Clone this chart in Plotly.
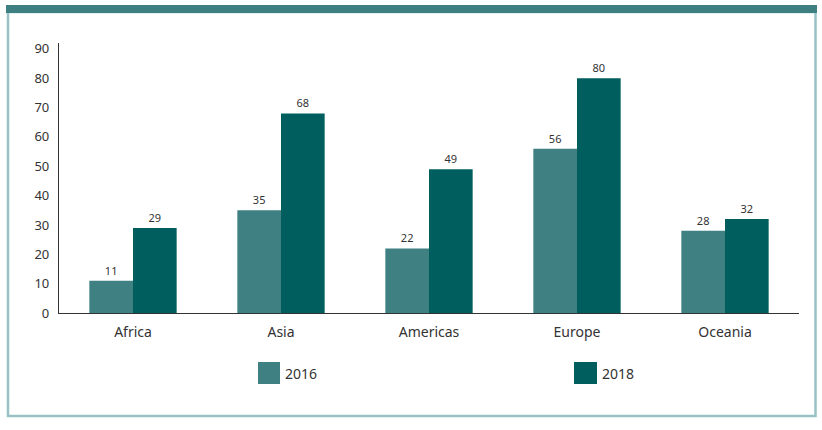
import plotly.graph_objects as go

categories = ["Africa", "Asia", "Americas", "Europe", "Oceania"]
values_2016 = [11, 35, 22, 56, 28]
values_2018 = [29, 68, 49, 80, 32]
series_names = ["2016", "2018"]
y_ticks = [0, 10, 20, 30, 40, 50, 60, 70, 80, 90]

C16 = "#3f8082"
C18 = "#005f5e"
FONT = "Noto Sans"
W, H = 822, 430
L, T = 59, 43
R = W - 799
B = H - 313
PW, PH = W - L - R, H - T - B


def px(x):
    return (x - L) / PW


def py(y):
    return (H - B - y) / PH


fig = go.Figure()
for name, vals, col in [(series_names[0], values_2016, C16), (series_names[1], values_2018, C18)]:
    fig.add_trace(go.Bar(
        x=categories, y=vals, name=name, marker=dict(color=col, line=dict(width=0)),
        text=[str(v) for v in vals], textposition="outside",
        textfont=dict(family=FONT, size=11, color="#333333"),
        cliponaxis=False, showlegend=False,
    ))

shapes = [
    # outer frame
    dict(type="rect", xref="paper", yref="paper", x0=px(8), x1=px(815.5), y0=py(12), y1=py(416),
         line=dict(color="#98c2c5", width=2.5), fillcolor="rgba(0,0,0,0)", layer="below"),
    # top band
    dict(type="rect", xref="paper", yref="paper", x0=px(6), x1=px(817), y0=py(5), y1=py(13),
         line=dict(width=0), fillcolor="#3e7f81"),
    # legend squares
    dict(type="rect", xref="paper", yref="paper", x0=px(258), x1=px(280), y0=py(362), y1=py(384),
         line=dict(width=0), fillcolor=C16),
    dict(type="rect", xref="paper", yref="paper", x0=px(574), x1=px(597), y0=py(362), y1=py(384),
         line=dict(width=0), fillcolor=C18),
]
annotations = [
    dict(xref="paper", yref="paper", x=px(283), y=py(373), text=series_names[0], showarrow=False,
         xanchor="left", yanchor="middle", font=dict(family=FONT, size=14, color="#333333")),
    dict(xref="paper", yref="paper", x=px(600), y=py(373), text=series_names[1], showarrow=False,
         xanchor="left", yanchor="middle", font=dict(family=FONT, size=14, color="#333333")),
]

fig.update_layout(
    width=W, height=H,
    margin=dict(l=L, r=R, t=T, b=B, pad=0),
    paper_bgcolor="white", plot_bgcolor="white",
    barmode="group", bargap=0.41, bargroupgap=0,
    shapes=shapes, annotations=annotations,
    showlegend=False,
    font=dict(family=FONT, color="#333333"),
    xaxis=dict(showgrid=False, showline=True, linecolor="#333333", linewidth=1.2,
               ticks="", tickfont=dict(family=FONT, size=14, color="#333333"), zeroline=False,
               ticklabelstandoff=6),
    yaxis=dict(range=[0, 92], tickvals=y_ticks, showgrid=False, showline=True,
               linecolor="#333333", linewidth=1.2, ticks="", zeroline=False,
               tickfont=dict(family=FONT, size=13, color="#333333"), ticklabelstandoff=6),
)

fig.write_html(
    "out.html",
    config={"displayModeBar": False},
    post_script="document.body.style.margin='0';document.body.style.overflow='hidden';",
)
